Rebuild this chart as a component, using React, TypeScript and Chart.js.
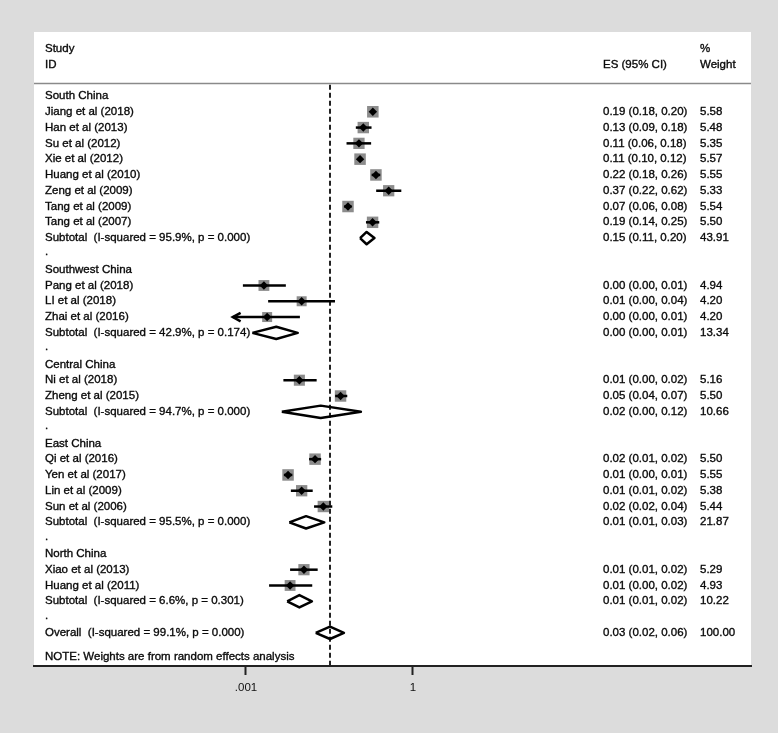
import React, { useEffect, useRef } from 'react';
import { Chart, registerables } from 'chart.js';

Chart.register(...registerables);

// ---------------- data ----------------
const GROUP_NAMES = ['South China', 'Southwest China', 'Central China', 'East China', 'North China'];

const STUDY_NAMES = [
  'Jiang et al (2018)', 'Han et al (2013)', 'Su et al (2012)', 'Xie et al (2012)',
  'Huang et al (2010)', 'Zeng et al (2009)', 'Tang et al (2009)', 'Tang et al (2007)',
  'Pang et al (2018)', 'LI et al (2018)', 'Zhai et al (2016)',
  'Ni et al (2018)', 'Zheng et al (2015)',
  'Qi et al (2016)', 'Yen et al (2017)', 'Lin et al (2009)', 'Sun et al (2006)',
  'Xiao et al (2013)', 'Huang et al (2011)',
];
const STUDY_GROUP = [0, 0, 0, 0, 0, 0, 0, 0, 1, 1, 1, 2, 2, 3, 3, 3, 3, 4, 4];
const STUDY_ES = [0.19, 0.128, 0.107, 0.112, 0.216, 0.366, 0.068, 0.188, 0.0021, 0.0100, 0.0024, 0.0091, 0.050, 0.0174, 0.0057, 0.0100, 0.0245, 0.011, 0.0062];
const STUDY_LO = [0.18, 0.094, 0.064, 0.104, 0.181, 0.218, 0.058, 0.143, 0.00088, 0.0025, 0.0003, 0.0047, 0.040, 0.0136, 0.0048, 0.0064, 0.0167, 0.0062, 0.0026];
const STUDY_HI = [0.20, 0.18, 0.177, 0.121, 0.258, 0.617, 0.079, 0.248, 0.0052, 0.0397, 0.0093, 0.0186, 0.066, 0.0224, 0.0068, 0.0158, 0.0355, 0.0194, 0.0155];
const STUDY_WEIGHT = [5.58, 5.48, 5.35, 5.57, 5.55, 5.33, 5.54, 5.50, 4.94, 4.20, 4.20, 5.16, 5.50, 5.50, 5.55, 5.38, 5.44, 5.29, 4.93];

const SUB_ES = [0.147, 0.0035, 0.022, 0.012, 0.0091];
const SUB_LO = [0.112, 0.0013, 0.0044, 0.0060, 0.0055];
const SUB_HI = [0.203, 0.0085, 0.116, 0.0255, 0.0153];
const SUB_WEIGHT = [43.91, 13.34, 10.66, 21.87, 10.22];
const SUB_I2 = ['95.9', '42.9', '94.7', '95.5', '6.6'];
const SUB_P = ['0.000', '0.174', '0.000', '0.000', '0.301'];

const OVERALL_ES = 0.0323;
const OVERALL_LO = 0.0179;
const OVERALL_HI = 0.0575;
const OVERALL_WEIGHT = 100;
const OVERALL_I2 = '99.1';
const OVERALL_P = '0.000';

const TICK_VALUES = [0.001, 1];
const TICK_LABELS = ['.001', '1'];

const CI_FLOOR = 0.00058; // lower limit of the drawn CI range (arrow beyond)
const X_MIN = Math.pow(10, -6.808);
const X_MAX = Math.pow(10, 6.072);

// ---------------- layout of rows ----------------
const studyRows: number[] = [];
const groupRows: number[] = [];
const subRows: number[] = [];
const dotRows: number[] = [];
let rr = 0;
GROUP_NAMES.forEach((_, gi) => {
  groupRows.push(rr); rr++;
  STUDY_GROUP.forEach((sg, si) => { if (sg === gi) { studyRows[si] = rr; rr++; } });
  subRows.push(rr); rr++;
  dotRows.push(rr); rr++;
});
const OVERALL_ROW = rr;
const NOTE_ROW = rr + 1.5;
const HEADER_ROW1 = -3;
const HEADER_ROW2 = -2;
const HEADER_LINE_ROW = -0.82;
const Y_MIN = -4.053;
const Y_MAX = 36.1;

const FONT = '11.5px "Liberation Sans", Arial, sans-serif';
const TEXT_COLOR = '#0a0a0a';
const X_LABEL = 45;
const X_ES = 603;
const X_WEIGHT = 700;

const fmtCI = (e: number, l: number, h: number) => `${e.toFixed(2)} (${l.toFixed(2)}, ${h.toFixed(2)})`;

function diamond(es: number, lo: number, hi: number, row: number) {
  const h = 0.39;
  return [
    { x: lo, y: row }, { x: es, y: row - h }, { x: hi, y: row }, { x: es, y: row + h }, { x: lo, y: row },
  ];
}

const forestPlugin = {
  id: 'forestText',
  beforeDraw(chart: any) {
    const { ctx, chartArea } = chart;
    ctx.save();
    ctx.fillStyle = '#dcdcdc';
    ctx.fillRect(0, 0, chart.width, chart.height);
    ctx.fillStyle = '#ffffff';
    ctx.fillRect(chartArea.left, chartArea.top, chartArea.right - chartArea.left, chartArea.bottom - chartArea.top);
    ctx.restore();
  },
  beforeDatasetsDraw(chart: any) {
    const { ctx, chartArea } = chart;
    const ys = chart.scales.y;
    const yl = Math.round(ys.getPixelForValue(HEADER_LINE_ROW)) + 0.5;
    ctx.save();
    ctx.strokeStyle = '#8a8a8a';
    ctx.lineWidth = 1.5;
    ctx.beginPath();
    ctx.moveTo(chartArea.left, yl);
    ctx.lineTo(chartArea.right, yl);
    ctx.stroke();
    ctx.restore();
  },
  afterDraw(chart: any) {
    const { ctx } = chart;
    const ys = chart.scales.y;
    const Y = (r: number) => ys.getPixelForValue(r);
    ctx.save();
    ctx.font = FONT;
    ctx.fillStyle = TEXT_COLOR;
    ctx.strokeStyle = TEXT_COLOR;
    ctx.lineWidth = 0.35;
    ctx.textBaseline = 'middle';
    ctx.textAlign = 'left';
    const t = (s: string, x: number, r: number) => {
      ctx.fillText(s, x, Y(r));
      ctx.strokeText(s, x, Y(r));
    };
    t('Study', X_LABEL, HEADER_ROW1);
    t('ID', X_LABEL, HEADER_ROW2);
    t('ES (95% CI)', X_ES, HEADER_ROW2);
    t('%', X_WEIGHT, HEADER_ROW1);
    t('Weight', X_WEIGHT, HEADER_ROW2);
    GROUP_NAMES.forEach((g, gi) => {
      t(g, X_LABEL, groupRows[gi]);
      t(`Subtotal  (I-squared = ${SUB_I2[gi]}%, p = ${SUB_P[gi]})`, X_LABEL, subRows[gi]);
      t(fmtCI(SUB_ES[gi], SUB_LO[gi], SUB_HI[gi]), X_ES, subRows[gi]);
      t(SUB_WEIGHT[gi].toFixed(2), X_WEIGHT, subRows[gi]);
      t('.', X_LABEL, dotRows[gi] - 0.1);
    });
    STUDY_NAMES.forEach((s, i) => {
      t(s, X_LABEL, studyRows[i]);
      t(fmtCI(STUDY_ES[i], STUDY_LO[i], STUDY_HI[i]), X_ES, studyRows[i]);
      t(STUDY_WEIGHT[i].toFixed(2), X_WEIGHT, studyRows[i]);
    });
    t(`Overall  (I-squared = ${OVERALL_I2}%, p = ${OVERALL_P})`, X_LABEL, OVERALL_ROW);
    t(fmtCI(OVERALL_ES, OVERALL_LO, OVERALL_HI), X_ES, OVERALL_ROW);
    t(OVERALL_WEIGHT.toFixed(2), X_WEIGHT, OVERALL_ROW);
    t('NOTE: Weights are from random effects analysis', X_LABEL, NOTE_ROW);
    ctx.restore();
  },
};

function buildDatasets() {
  const ds: any[] = [];
  // markers (top)
  ds.push({
    type: 'scatter',
    data: STUDY_ES.map((v, i) => ({ x: v, y: studyRows[i] })),
    pointStyle: 'rectRot',
    pointRadius: 4.2,
    pointBackgroundColor: '#000',
    pointBorderWidth: 0,
    order: 0,
  });
  // CI lines
  STUDY_ES.forEach((_, i) => {
    const lo = Math.max(STUDY_LO[i], CI_FLOOR);
    ds.push({
      type: 'line',
      data: [{ x: lo, y: studyRows[i] }, { x: STUDY_HI[i], y: studyRows[i] }],
      borderColor: '#000', borderWidth: 2.5, pointRadius: 0, fill: false, borderCapStyle: 'butt', order: 1,
    });
    if (STUDY_LO[i] < CI_FLOOR) {
      const k = Math.pow(10, 0.14);
      ds.push({
        type: 'line',
        data: [
          { x: CI_FLOOR * k, y: studyRows[i] - 0.27 },
          { x: CI_FLOOR, y: studyRows[i] },
          { x: CI_FLOOR * k, y: studyRows[i] + 0.27 },
        ],
        borderColor: '#000', borderWidth: 2.5, pointRadius: 0, fill: false, borderJoinStyle: 'miter', order: 1,
      });
    }
  });
  // subtotal diamonds
  SUB_ES.forEach((e, gi) => {
    ds.push({
      type: 'line',
      data: diamond(e, SUB_LO[gi], SUB_HI[gi], subRows[gi]),
      borderColor: '#000', borderWidth: 2.5, pointRadius: 0, fill: false, borderJoinStyle: 'round', order: 1,
    });
  });
  ds.push({
    type: 'line',
    data: diamond(OVERALL_ES, OVERALL_LO, OVERALL_HI, OVERALL_ROW),
    borderColor: '#000', borderWidth: 2.5, pointRadius: 0, fill: false, borderJoinStyle: 'round', order: 1,
  });
  // weight squares
  ds.push({
    type: 'scatter',
    data: STUDY_ES.map((v, i) => ({ x: v, y: studyRows[i] })),
    pointStyle: 'rect',
    pointRadius: STUDY_WEIGHT.map((w) => 3.45 * Math.sqrt(w)),
    pointBackgroundColor: '#8c8c8c',
    pointBorderWidth: 0,
    order: 3,
  });
  // overall dashed line
  ds.push({
    type: 'line',
    data: [{ x: OVERALL_ES, y: HEADER_LINE_ROW + 0.1 }, { x: OVERALL_ES, y: Y_MAX }],
    borderColor: '#222', borderWidth: 2, borderDash: [5, 3], pointRadius: 0, fill: false, order: 4,
  });
  return ds;
}

export default function App() {
  const ref = useRef<HTMLCanvasElement>(null);
  useEffect(() => {
    if (!ref.current) return;
    const chart = new Chart(ref.current, {
      type: 'scatter',
      data: { datasets: buildDatasets() },
      options: {
        animation: false,
        responsive: false,
        devicePixelRatio: 1,
        layout: { padding: { left: 34, right: 27, top: 32, bottom: 0 } },
        plugins: { legend: { display: false }, tooltip: { enabled: false } },
        scales: {
          x: {
            type: 'logarithmic',
            position: 'bottom',
            min: X_MIN,
            max: X_MAX,
            bounds: 'data',
            afterBuildTicks: (scale: any) => { scale.ticks = TICK_VALUES.map((v) => ({ value: v })); },
            afterFit: (scale: any) => { scale.height = 67; },
            ticks: {
              autoSkip: false,
              maxRotation: 0,
              padding: 6,
              color: '#111',
              font: { family: '"Liberation Sans", Arial, sans-serif', size: 11.5 },
              callback: (_v: any, idx: number) => TICK_LABELS[idx],
            },
            grid: {
              display: true, drawOnChartArea: false, drawTicks: true,
              tickLength: 9, tickWidth: 2, tickColor: '#222', color: '#222',
            },
            border: { display: true, color: '#222', width: 2 },
          },
          y: {
            type: 'linear',
            display: false,
            min: Y_MIN,
            max: Y_MAX,
            reverse: true,
          },
        },
      } as any,
      plugins: [forestPlugin],
    });
    return () => chart.destroy();
  }, []);
  return (
    <div style={{ position: 'absolute', left: 0, top: 0, width: 778, height: 733 }}>
      <canvas ref={ref} width={778} height={733} style={{ display: 'block' }} />
    </div>
  );
}
